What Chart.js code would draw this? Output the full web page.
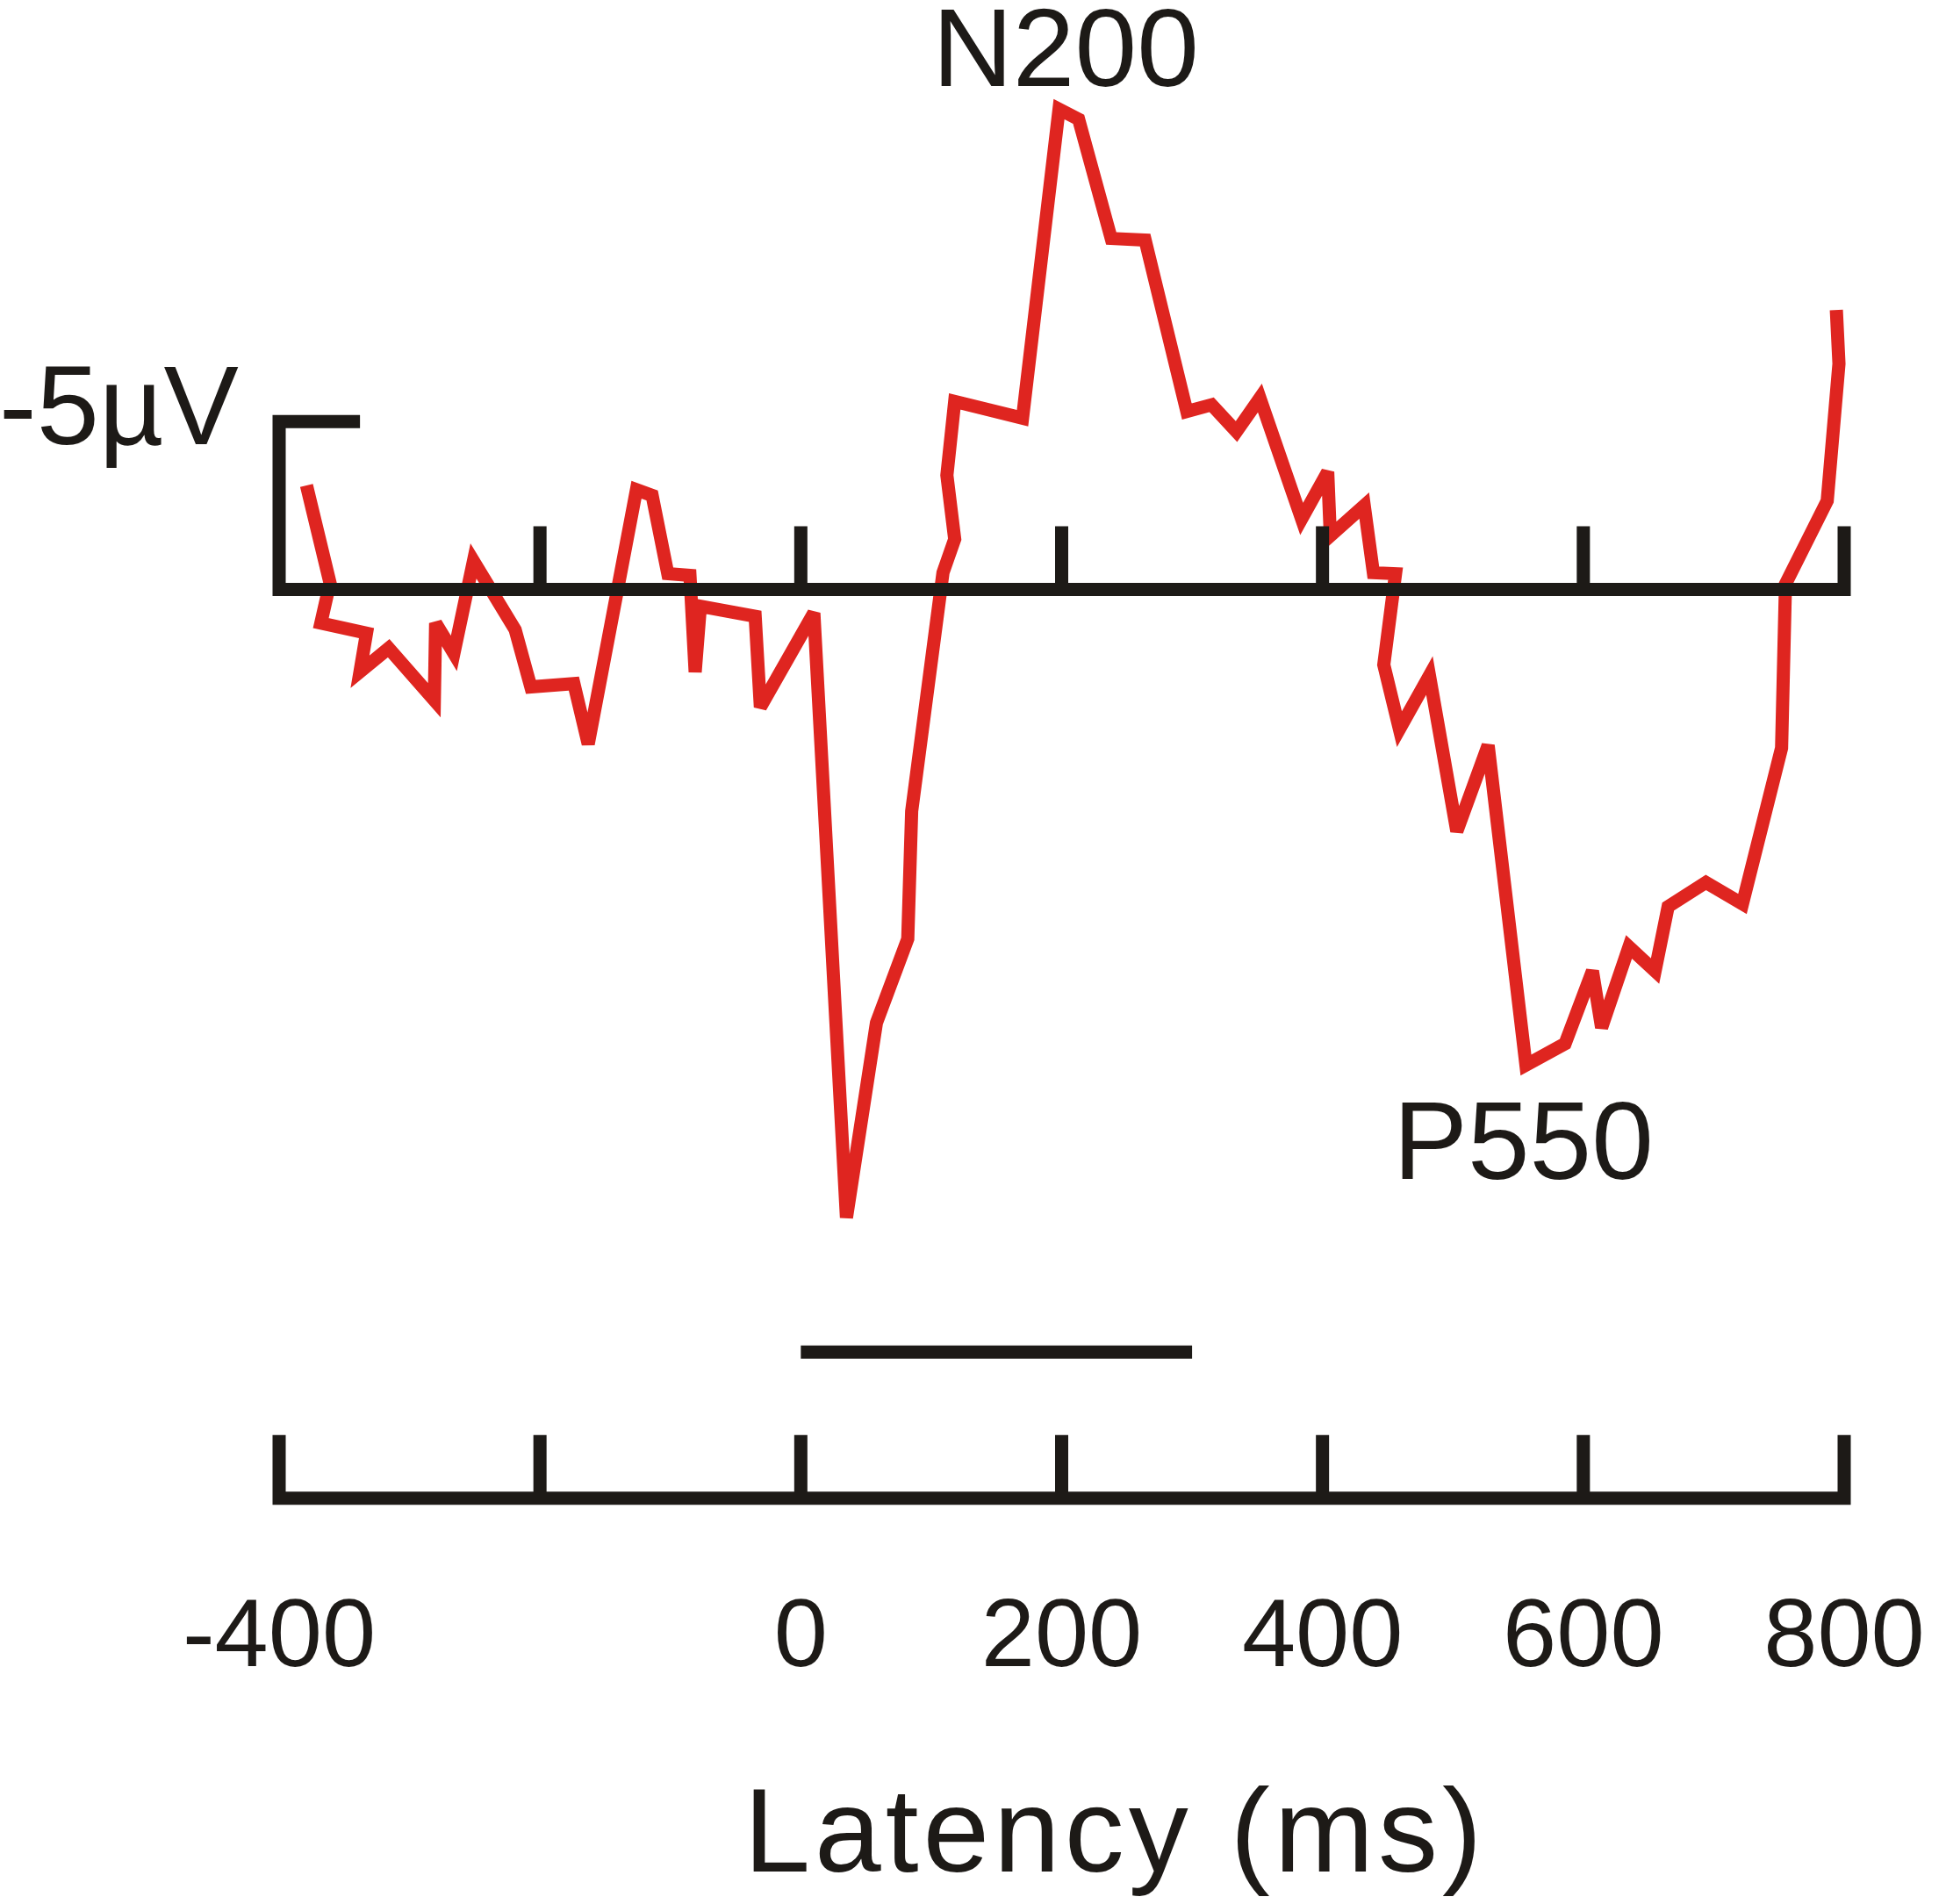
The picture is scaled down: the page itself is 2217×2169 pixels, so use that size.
<!DOCTYPE html>
<html>
<head>
<meta charset="utf-8">
<title>ERP waveform</title>
<script src="https://cdn.jsdelivr.net/npm/chart.js@4/dist/chart.umd.min.js"></script>
<style>
  html, body { margin: 0; padding: 0; background: #ffffff; }
  #wrap { width: 2217px; height: 2169px; }
</style>
</head>
<body>
<div id="wrap"><canvas id="erpChart" width="2217" height="2169"></canvas></div>
<script>
// waveform (latency in ms, amplitude in µV, negative up)
const latencyMs = [-379, -361, -368, -333, -338, -316, -281, -280, -266, -251, -219, -207, -174, -163,
    -126, -114, -102, -85, -81, -77, -35, -31, 10, 35, 58, 82, 85, 109, 118, 112, 118, 170, 198, 213,
    238, 264, 296, 315, 334, 352, 384, 404, 406, 432, 439, 456, 447, 459, 482, 503, 527, 556, 586,
    607, 614, 635, 655, 665, 694, 722, 752, 755, 787, 796, 794];
const amplitudeUv = [-3.1, -0.2, 1.0, 1.3, 2.45, 1.75, 3.3, 1.0, 1.9, -0.85, 1.2, 2.9, 2.8, 4.6,
    -2.97, -2.8, -0.47, -0.42, 2.46, 0.5, 0.8, 3.5, 0.7, 18.7, 12.9, 10.4, 6.6, -0.5, -1.5, -3.4, -5.6,
    -5.1, -14.3, -14.0, -10.45, -10.4, -5.3, -5.5, -4.7, -5.7, -2.1, -3.5, -1.6, -2.5, -0.5, -0.47,
    2.24, 4.16, 2.56, 7.2, 4.64, 14.16, 13.52, 11.36, 13.04, 10.64, 11.36, 9.44, 8.72, 9.36, 4.72,
    -0.16, -2.64, -6.72, -8.32];

const axisTicksMs = [-400, -200, 0, 200, 400, 600, 800];
const hiddenTickMs = [-200];
const stimulusMs = [0, 300];
const calibrationUv = -5;
const calibrationEndMs = -338;
const peakNames = ['N200', 'P550'];
const peakLabelMs = [203, 554];
const peakLabelUv = [-15.0, 17.55];
const xTitle = 'Latency (ms)';

const RED = '#df2520';
const INK = '#1d1a17';
const FONT = "'Liberation Sans', Arial, sans-serif";

// layout of the two axis rows (in µV units of the y scale)
const tickLen = 1.88;
const lowerAxisUv = 27.05;
const stimulusUv = 22.7;

function waveform() {
    return latencyMs.map((ms, i) => ({ x: ms, y: amplitudeUv[i] }));
}

function upperAxis() {
    const first = axisTicksMs[0];
    const last = axisTicksMs[axisTicksMs.length - 1];
    const pts = [
        { x: calibrationEndMs, y: calibrationUv },
        { x: first, y: calibrationUv },
        { x: first, y: 0 },
        { x: last, y: 0 },
        { x: last, y: -tickLen }
    ];
    for (const t of axisTicksMs.slice(1, -1)) {
        pts.push({ x: t, y: null });
        pts.push({ x: t, y: 0 });
        pts.push({ x: t, y: -tickLen });
    }
    return pts;
}

function lowerAxis() {
    const first = axisTicksMs[0];
    const last = axisTicksMs[axisTicksMs.length - 1];
    const pts = [
        { x: first, y: lowerAxisUv - tickLen },
        { x: first, y: lowerAxisUv },
        { x: last, y: lowerAxisUv },
        { x: last, y: lowerAxisUv - tickLen }
    ];
    for (const t of axisTicksMs.slice(1, -1)) {
        pts.push({ x: t, y: null });
        pts.push({ x: t, y: lowerAxisUv });
        pts.push({ x: t, y: lowerAxisUv - tickLen });
    }
    return pts;
}

function stimulusBar() {
    return stimulusMs.map(ms => ({ x: ms, y: stimulusUv }));
}

function blackLine(label, data) {
    return {
        label: label,
        data: data,
        borderColor: INK,
        borderWidth: 15,
        borderJoinStyle: 'miter',
        borderCapStyle: 'butt',
        pointRadius: 0,
        tension: 0,
        spanGaps: false,
        clip: false
    };
}

// keep the sharp spikes from growing long miter tips
const miterPlugin = {
    id: 'miterLimit',
    beforeDatasetsDraw(chart) {
        chart.ctx.miterLimit = 3;
    }
};

const labelsPlugin = {
    id: 'erpLabels',
    afterDatasetsDraw(chart) {
        const ctx = chart.ctx;
        const x = chart.scales.x;
        const y = chart.scales.y;
        ctx.save();
        ctx.fillStyle = INK;
        ctx.textBaseline = 'alphabetic';

        ctx.font = '127px ' + FONT;
        ctx.textAlign = 'center';
        for (let i = 0; i < peakNames.length; i++) {
            ctx.fillText(peakNames[i], x.getPixelForValue(peakLabelMs[i]), y.getPixelForValue(peakLabelUv[i]));
        }

        ctx.font = '128px ' + FONT;
        ctx.textAlign = 'right';
        ctx.fillText('-5µV', x.getPixelForValue(-431), y.getPixelForValue(-4.32));

        ctx.font = '136px ' + FONT;
        ctx.letterSpacing = '5px';
        ctx.textAlign = 'center';
        ctx.fillText(xTitle, x.getPixelForValue(241), chart.height - 37);
        ctx.restore();
    }
};

const ctx = document.getElementById('erpChart').getContext('2d');
const chart = new Chart(ctx, {
    type: 'line',
    data: {
        datasets: [
            blackLine('upper axis', upperAxis()),
            blackLine('lower axis', lowerAxis()),
            blackLine('stimulus', stimulusBar()),
            {
                label: 'ERP',
                data: waveform(),
                borderColor: RED,
                borderWidth: 15,
                borderJoinStyle: 'miter',
                borderCapStyle: 'butt',
                pointRadius: 0,
                tension: 0,
                clip: false
            }
        ]
    },
    options: {
        responsive: false,
        devicePixelRatio: 1,
        animation: false,
        layout: { padding: { left: 318, right: 116, top: 21, bottom: 235 } },
        plugins: {
            legend: { display: false },
            tooltip: { enabled: false }
        },
        scales: {
            x: {
                type: 'linear',
                min: axisTicksMs[0],
                max: axisTicksMs[axisTicksMs.length - 1],
                grid: { display: false, drawTicks: true, tickLength: 59 },
                border: { display: false },
                ticks: {
                    stepSize: 200,
                    autoSkip: false,
                    maxRotation: 0,
                    padding: 0,
                    color: INK,
                    font: { family: FONT, size: 110 },
                    callback: v => hiddenTickMs.includes(v) ? '' : String(v)
                }
            },
            y: {
                type: 'linear',
                reverse: true,
                min: -17,
                max: 28,
                display: false
            }
        }
    },
    plugins: [miterPlugin, labelsPlugin]
});
</script>
</body>
</html>
